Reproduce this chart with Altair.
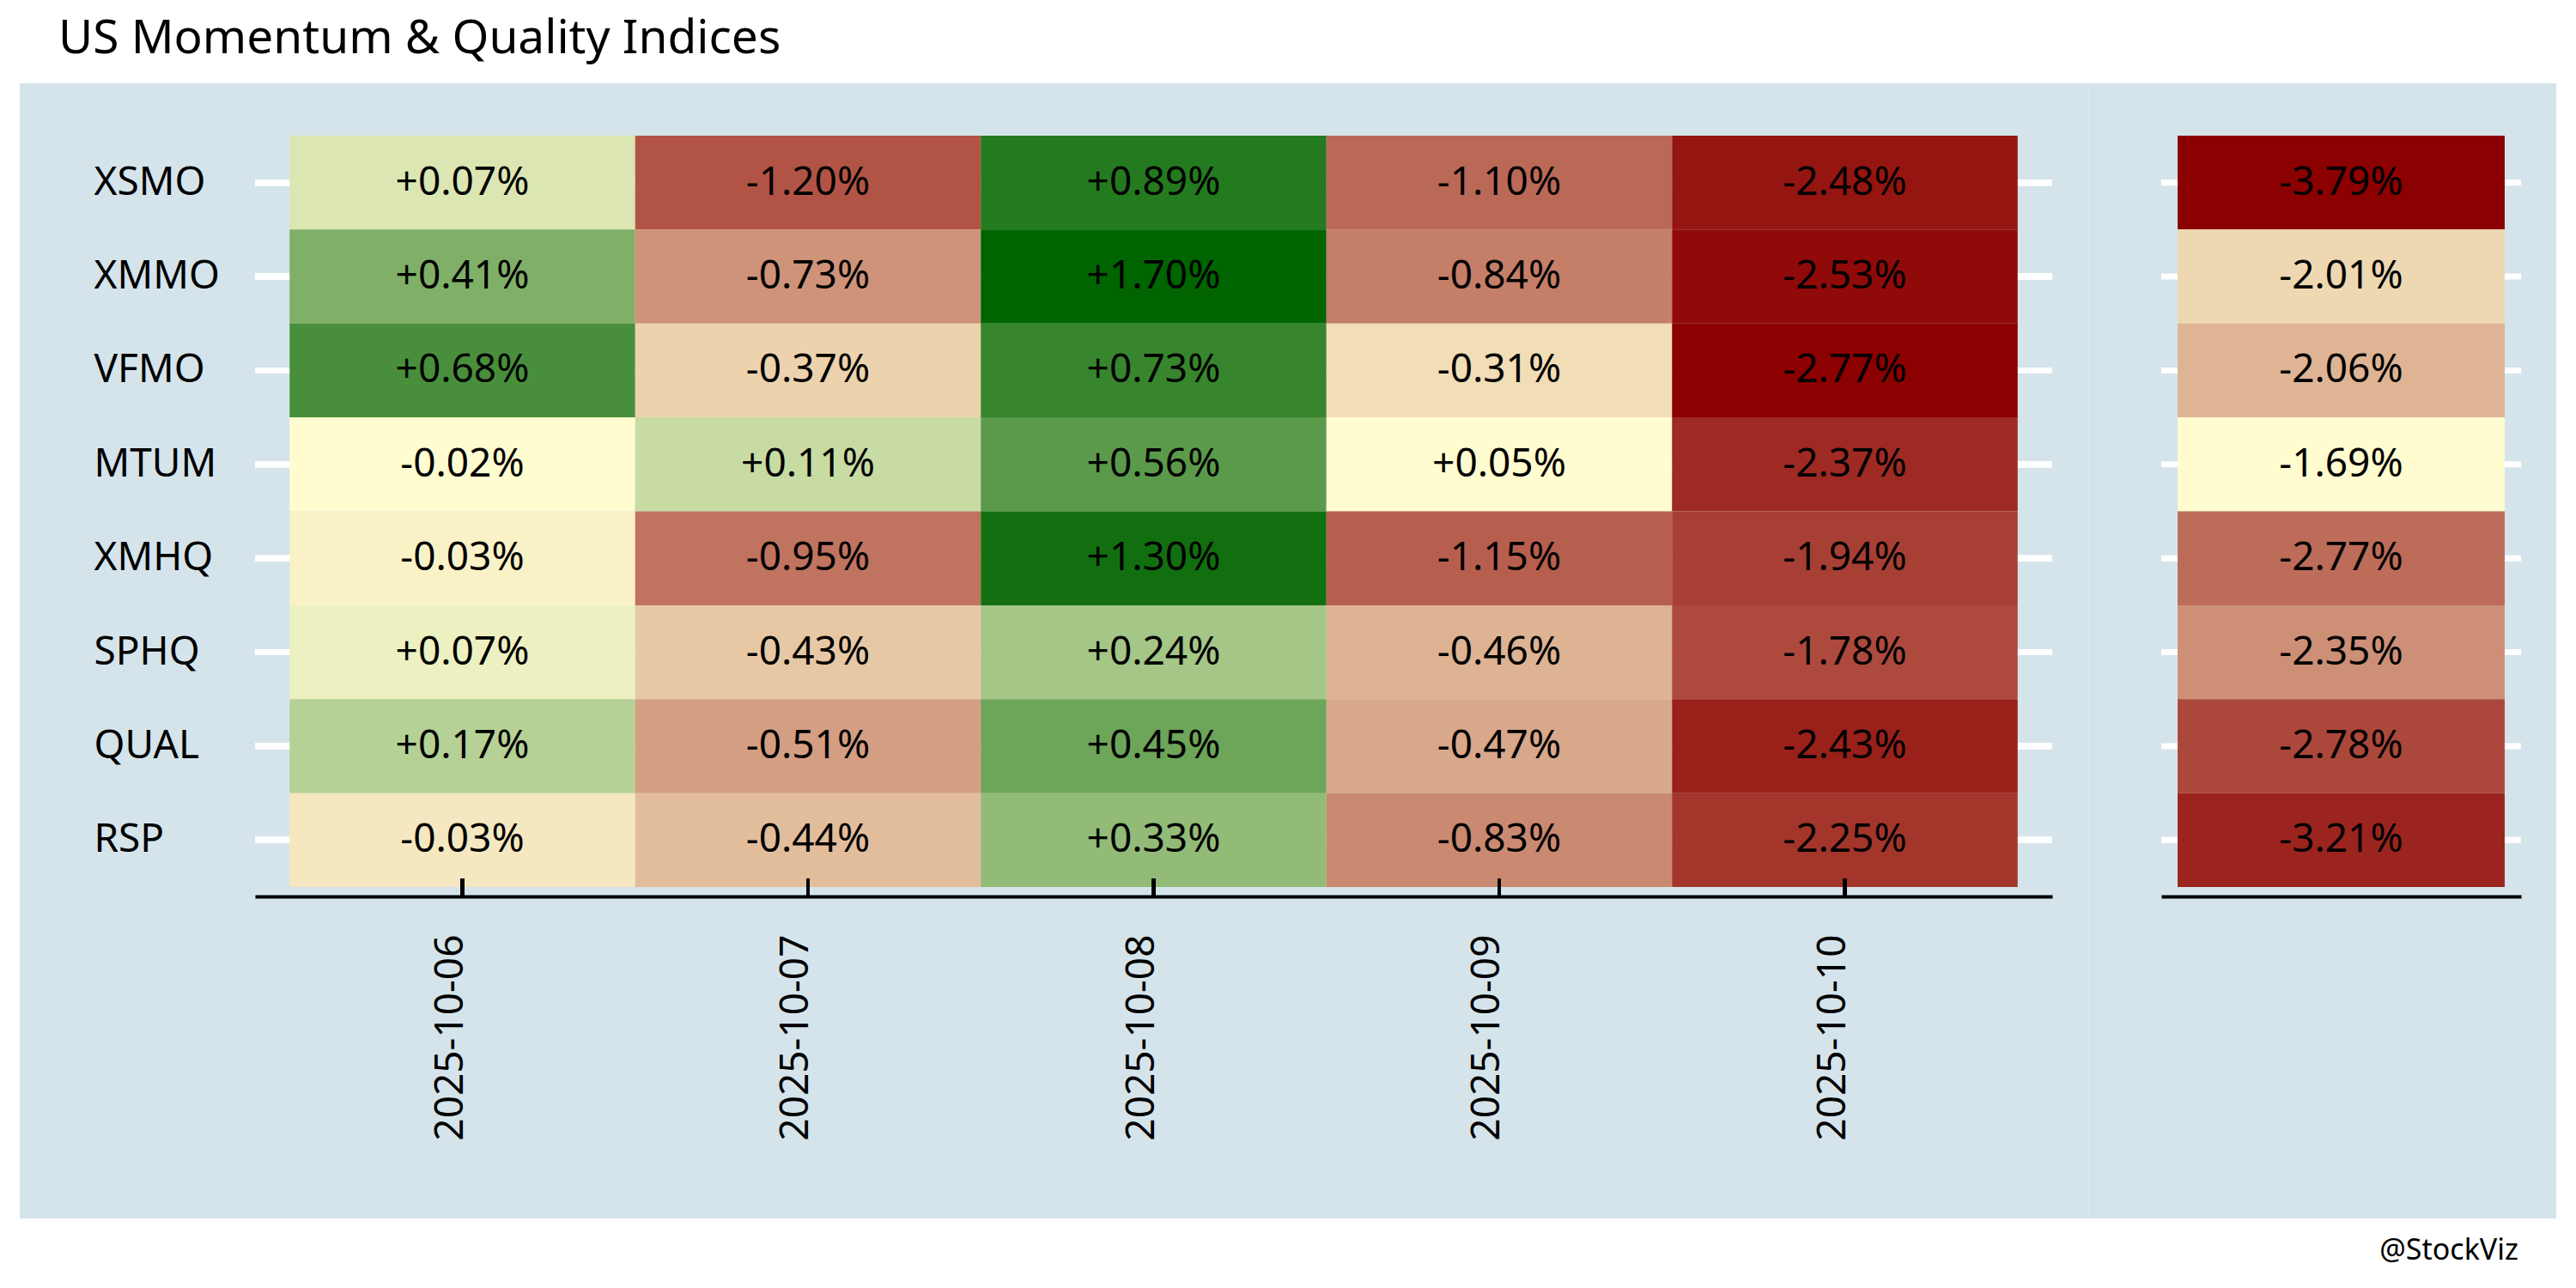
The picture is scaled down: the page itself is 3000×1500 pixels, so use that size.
import altair as alt
import pandas as pd

# ---- data ----
symbols = ["XSMO", "XMMO", "VFMO", "MTUM", "XMHQ", "SPHQ", "QUAL", "RSP"]
dates = ["2025-10-06", "2025-10-07", "2025-10-08", "2025-10-09", "2025-10-10"]

d_1006 = [0.074, 0.41, 0.68, -0.02, -0.028, 0.066, 0.17, -0.034]
d_1007 = [-1.20, -0.73, -0.37, 0.11, -0.95, -0.43, -0.51, -0.44]
d_1008 = [0.89, 1.70, 0.73, 0.56, 1.30, 0.24, 0.45, 0.33]
d_1009 = [-1.10, -0.84, -0.31, 0.05, -1.15, -0.46, -0.47, -0.83]
d_1010 = [-2.48, -2.53, -2.77, -2.37, -1.94, -1.78, -2.43, -2.25]
total = [-3.79, -2.01, -2.06, -1.69, -2.77, -2.35, -2.78, -3.21]

title_text = "US Momentum & Quality Indices"
caption_text = "@StockViz"

FONT = "Noto Sans"
BG = "#d5e4eb"
LOW, MID, HIGH = "#8b0000", "#fffcd0", "#006400"


def color_pos(df):
    """rank-based colour position: negatives -> [0, .5], positives -> [.5, 1]"""
    df = df.copy()
    df["t"] = 0.5
    neg = df["v"] < 0
    pos = ~neg
    for mask, lo in ((neg, 0.0), (pos, 0.5)):
        n = int(mask.sum())
        if n > 1:
            r = df.loc[mask, "v"].rank(method="first") - 1
            df.loc[mask, "t"] = lo + 0.5 * r / (n - 1)
        elif n == 1:
            df.loc[mask, "t"] = 0.5
    df["label"] = df["v"].map(lambda x: f"{x:+.2f}%")
    return df


cols = [d_1006, d_1007, d_1008, d_1009, d_1010]
rows = []
for d, vals in zip(dates, cols):
    for s, v in zip(symbols, vals):
        rows.append({"date": d, "symbol": s, "v": v})
left_df = color_pos(pd.DataFrame(rows))

right_df = color_pos(pd.DataFrame({"col": ["total"] * len(symbols),
                                    "symbol": symbols, "v": total}))

W1, W2, H = 2093, 419, 897

color = alt.Color("t:Q", scale=alt.Scale(domain=[0, 0.5, 1], range=[LOW, MID, HIGH],
                                         interpolate="rgb"), legend=None)

y_left = alt.Y("symbol:N",
               scale=alt.Scale(domain=symbols, paddingInner=0, paddingOuter=0.1),
               axis=alt.Axis(orient="left", title=None, ticks=False, tickSize=0,
                             domain=False, grid=False, labelAlign="left",
                             labelBaseline="middle", labelPadding=188,
                             labelFont=FONT, labelFontSize=46, labelColor="black",
                             labelLimit=500, zindex=1))
x_left = alt.X("date:N",
               scale=alt.Scale(domain=dates, paddingInner=0, paddingOuter=0.1),
               axis=alt.Axis(orient="bottom", title=None, ticks=False, tickSize=0,
                             domain=True, domainColor="black", domainWidth=4,
                             grid=False, labelAngle=270, labelAlign="right",
                             labelBaseline="alphabetic", labelPadding=44,
                             labelFont=FONT, labelFontSize=46, labelColor="black",
                             labelLimit=600, labelOverlap=False, zindex=1))

one = alt.Data(values=[{"k": 1}])

bounds_rect = alt.Chart(one).mark_rect(fill="white", opacity=0).encode(
    x=alt.value(-289), x2=alt.value(2695), y=alt.value(-139), y2=alt.value(1345))
bg_rect = alt.Chart(one).mark_rect(fill=BG).encode(
    x=alt.value(-274), x2=alt.value(2680), y=alt.value(-50), y2=alt.value(1272))
sep_line = alt.Chart(one).mark_rule(color="#dde9ef", strokeWidth=1.5).encode(
    x=alt.value(2135), y=alt.value(-50), y2=alt.value(1272))
title_mark = alt.Chart(one).mark_text(
    align="left", baseline="alphabetic", font=FONT, fontSize=55, color="black"
).encode(x=alt.value(-229), y=alt.value(-85), text=alt.value(title_text))
caption_mark = alt.Chart(one).mark_text(
    align="right", baseline="alphabetic", font=FONT, fontSize=34, color="black"
).encode(x=alt.value(2636), y=alt.value(1320), text=alt.value(caption_text))

base_l = alt.Chart(left_df)
grid_l = base_l.mark_rule(color="white", strokeWidth=7).encode(
    y=y_left, x=alt.value(0), x2=alt.value(W1))
tiles_l = base_l.mark_rect().encode(x=x_left, y=y_left, color=color)
text_l = base_l.mark_text(font=FONT, fontSize=46, color="black",
                          baseline="middle", align="center").encode(
    x=x_left, y=y_left, text="label:N")
ticks_l = base_l.mark_rule(color="black", strokeWidth=4).encode(
    x=x_left, y=alt.value(H - 21), y2=alt.value(H))

left = alt.layer(bounds_rect, bg_rect, sep_line, title_mark, caption_mark,
                 grid_l, tiles_l, text_l, ticks_l).properties(width=W1, height=H)

y_right = alt.Y("symbol:N",
                scale=alt.Scale(domain=symbols, paddingInner=0, paddingOuter=0.1),
                axis=None)
x_right = alt.X("col:N",
                scale=alt.Scale(domain=["total"], paddingInner=0, paddingOuter=0.05),
                axis=alt.Axis(orient="bottom", title=None, ticks=False, tickSize=0,
                              labels=False, domain=True, domainColor="black",
                              domainWidth=4, grid=False, zindex=1))

base_r = alt.Chart(right_df)
grid_r = base_r.mark_rule(color="white", strokeWidth=7).encode(
    y=y_right, x=alt.value(0), x2=alt.value(W2))
tiles_r = base_r.mark_rect().encode(x=x_right, y=y_right, color=color)
text_r = base_r.mark_text(font=FONT, fontSize=46, color="black",
                          baseline="middle", align="center").encode(
    x=x_right, y=y_right, text="label:N")

right = alt.layer(grid_r, tiles_r, text_r).properties(width=W2, height=H)

chart = alt.hconcat(left, right, spacing=127, bounds="flush").properties(
    padding=0
).configure(background="white").configure_view(strokeWidth=0)

chart.save("out.html", embed_options={"renderer": "svg", "actions": False})
